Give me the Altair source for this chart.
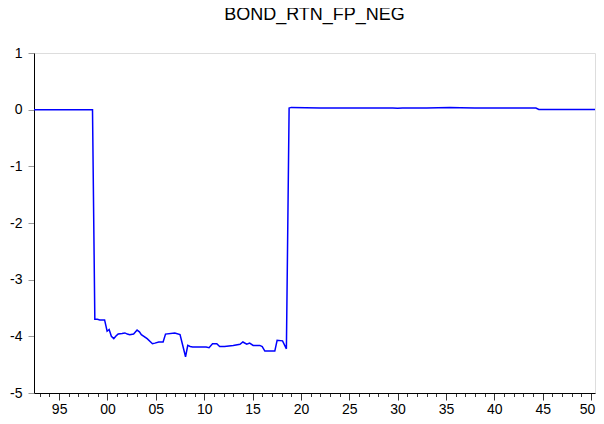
import altair as alt
import pandas as pd

years = [
    1992.4, 1998.45, 1998.69, 1998.95, 1999.2, 1999.7, 1999.96, 2000.17, 2000.4,
    2000.65, 2000.9, 2001.1, 2001.5, 2001.8, 2002.05, 2002.3, 2002.7, 2003.06,
    2003.3, 2003.5, 2004.1, 2004.65, 2004.9, 2005.3, 2005.75, 2006.0, 2006.96,
    2007.5, 2007.75, 2008.07, 2008.3, 2008.55, 2008.8, 2009.5, 2010.2, 2010.5,
    2010.86, 2011.3, 2011.6, 2012.1, 2013.0, 2013.7, 2014.0, 2014.4, 2014.7,
    2015.06, 2015.75, 2016.0, 2016.27, 2017.3, 2017.54, 2018.1, 2018.5, 2018.78,
    2019.0, 2020.5, 2022.0, 2025.0, 2027.0, 2029.5, 2030.0, 2030.5, 2033.0,
    2035.4, 2036.5, 2038.0, 2041.0, 2044.3, 2044.6, 2051.0,
]
values = [
    0.0, 0.0, -3.70, -3.70, -3.71, -3.71, -3.91, -3.88, -4.00,
    -4.04, -3.99, -3.96, -3.95, -3.94, -3.96, -3.97, -3.96, -3.89,
    -3.92, -3.97, -4.04, -4.13, -4.12, -4.10, -4.10, -3.96, -3.94,
    -3.97, -4.14, -4.36, -4.16, -4.18, -4.19, -4.19, -4.19, -4.20,
    -4.13, -4.13, -4.18, -4.18, -4.16, -4.14, -4.10, -4.14, -4.12,
    -4.16, -4.16, -4.18, -4.26, -4.26, -4.07, -4.08, -4.22, 0.03,
    0.04, 0.035, 0.03, 0.03, 0.03, 0.03, 0.025, 0.03, 0.03,
    0.04, 0.035, 0.03, 0.03, 0.03, 0.005, 0.005,
]

year_ticks = list(range(1993, 2051))
y_ticks = [1, 0, -1, -2, -3, -4, -5]
x_domain = [1992.4, 2050.41]
y_domain = [-5, 1]
title_text = "BOND_RTN_FP_NEG"

df = pd.DataFrame({"year": years, "value": values})

FONT = "Liberation Sans"

x_axis = alt.Axis(
    values=year_ticks,
    labelExpr="datum.value % 5 == 0 ? ((datum.value % 100 < 10 ? '0' : '') + (datum.value % 100)) : ''",
    grid=False,
    domainColor="#000000",
    tickColor="#333333",
    tickSize={"condition": {"test": "datum.value % 5 == 0", "value": 7}, "value": 3.5},
    labelOffset={"condition": {"test": "datum.value == 2050", "value": -4}, "value": 0},
    labelPadding=2,
    labelFont=FONT,
    labelFontSize=14,
    labelColor="#000000",
    labelOverlap=False,
    labelFlush=False,
    title=None,
)

y_axis = alt.Axis(
    values=y_ticks,
    labelExpr="datum.value + ''",
    grid=False,
    domainColor="#000000",
    tickColor="#999999",
    tickSize=6,
    labelPadding=6,
    labelFont=FONT,
    labelFontSize=14,
    labelColor="#000000",
    title=None,
)

chart = (
    alt.Chart(df)
    .mark_line(color="#0000ff", strokeWidth=1.5, clip=True)
    .encode(
        x=alt.X("year:Q", scale=alt.Scale(domain=x_domain, nice=False, zero=False), axis=x_axis),
        y=alt.Y("value:Q", scale=alt.Scale(domain=y_domain, nice=False), axis=y_axis),
    )
    .properties(
        width=561,
        height=340,
        title=alt.TitleParams(
            text=title_text,
            font=FONT,
            fontSize=18,
            fontWeight="normal",
            color="#000000",
            anchor="middle",
            baseline="alphabetic",
            offset=8,
        ),
        autosize=alt.AutoSizeParams(type="none"),
        padding={"left": 26, "top": 45, "right": 1, "bottom": 23},
    )
    .configure_view(stroke="#808080", strokeWidth=1)
    .configure(background="#ffffff")
)

chart.save("out.html", embed_options={"renderer": "svg", "actions": False})
